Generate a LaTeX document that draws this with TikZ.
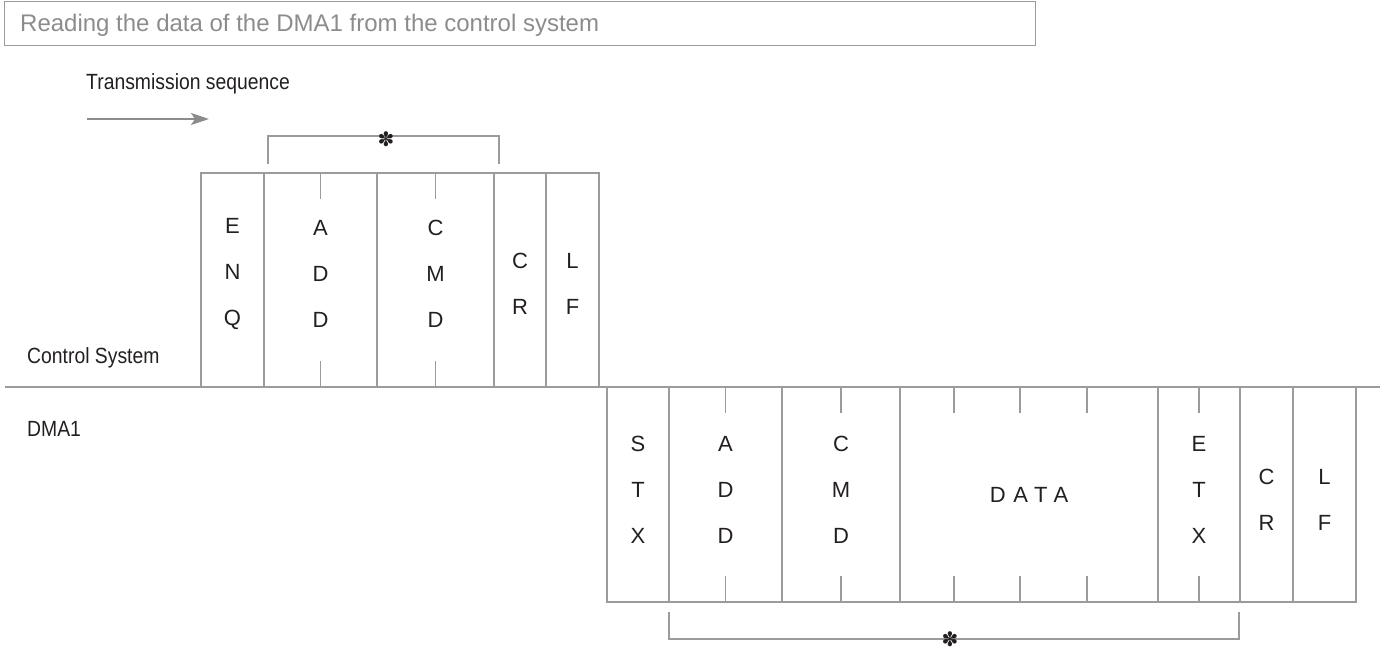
\documentclass[tikz,border=0pt]{standalone}
\usepackage{fontspec}
\setmainfont{Liberation Sans}
\newfontfamily\condfont[FakeStretch=0.88]{Liberation Sans}
\newfontfamily\symfont{DejaVu Sans}
\usetikzlibrary{positioning,arrows.meta}
\definecolor{linegray}{HTML}{9B9B9B}
\definecolor{titlegray}{HTML}{8C8C8C}
\definecolor{inkblack}{HTML}{231F20}

\begin{document}
\begin{tikzpicture}[x=1pt,y=-1pt,
cell/.style={draw=linegray,line width=1.3pt,minimum width=#1,inner sep=0pt,outer sep=0pt},
upper/.style={minimum height=214pt},
lower/.style={minimum height=215pt},
letters/.style={text=inkblack,font=\fontsize{22}{46}\selectfont,align=center},
caption/.style={text=inkblack,font=\condfont\fontsize{22}{26}\selectfont,inner sep=0pt},
frame/.style={draw=linegray,line width=1.3pt},
tick/.style={draw=linegray,line width=1.3pt},
flow/.style={draw=titlegray,line width=2pt,-{Stealth[length=18pt,width=12pt,inset=4pt]}},
starmark/.style={text=inkblack,font=\symfont\fontsize{20}{20}\selectfont,inner sep=0pt}
]

\useasboundingbox (0,0) rectangle (1386,650);

% heading
\node (titlebox) [frame,anchor=north west,minimum width=1031pt,minimum height=44pt,inner sep=0pt] at (4,1) {};
\node (title) [anchor=base west,inner sep=0pt,text=titlegray,font=\fontsize{24}{28}\selectfont] at (20,32) {Reading the data of the DMA1 from the control system};

\node (seq) [caption,anchor=base west] at (86,90) {Transmission sequence};
\coordinate (arrS) at (87,119);
\coordinate (arrE) at (209,119);
\draw[flow] (arrS) -- (arrE);

% control system frame
\node (enq1) [cell=63pt,upper,anchor=north west,label={[letters,yshift=6pt]center:E\\N\\Q}] at (201,173) {};
\node (add1) [cell=113pt,upper,right=0pt of enq1,label={[letters,yshift=6pt]center:A\\D\\D}] {};
\node (cmd1) [cell=117pt,upper,right=0pt of add1,label={[letters,yshift=6pt]center:C\\M\\D}] {};
\node (cr1)  [cell=52pt,upper,right=0pt of cmd1,label={[letters,yshift=-4pt]center:C\\R}] {};
\node (lf1)  [cell=53pt,upper,right=0pt of cr1,label={[letters,yshift=-4pt]center:L\\F}] {};

\foreach \c in {add1,cmd1} {
  \draw[tick] (\c.north) -- ++(0,26);
  \draw[tick] (\c.south) -- ++(0,-26);
}

\node (ctrl) [caption,anchor=base west] at (27,363) {Control System};
\node (dma)  [caption,anchor=base west] at (27,436) {DMA1};

\coordinate (sepL) at (5,387);
\coordinate (sepR) at (1380,387);
\draw[frame] (sepL) -- (sepR);

% DMA1 frame
\node (stx2)  [cell=62pt,lower,anchor=north west,label={[letters,yshift=5pt]center:S\\T\\X}] at (607,387) {};
\node (add2)  [cell=113pt,lower,right=0pt of stx2,label={[letters,yshift=5pt]center:A\\D\\D}] {};
\node (cmd2)  [cell=118pt,lower,right=0pt of add2,label={[letters,yshift=5pt]center:C\\M\\D}] {};
\node (data2) [cell=258pt,lower,right=0pt of cmd2,label={[letters,font=\addfontfeature{LetterSpace=35}\fontsize{22}{46}\selectfont]center:DATA}] {};
\node (etx2)  [cell=82pt,lower,right=0pt of data2,label={[letters,yshift=5pt]center:E\\T\\X}] {};
\node (cr2)   [cell=53pt,lower,right=0pt of etx2,label={[letters,yshift=-5pt]center:C\\R}] {};
\node (lf2)   [cell=63pt,lower,right=0pt of cr2,label={[letters,yshift=-5pt]center:L\\F}] {};

\foreach \c in {add2,cmd2,etx2} {
  \draw[tick] (\c.north) -- ++(0,26);
  \draw[tick] (\c.south) -- ++(0,-26);
}
\foreach \dx in {54,120,187} {
  \draw[tick] ([xshift=\dx pt]data2.north west) -- ++(0,26);
  \draw[tick] ([xshift=\dx pt]data2.south west) -- ++(0,-26);
}

% brackets
\coordinate (br1) at (386,136);
\draw[frame] ([xshift=4pt,yshift=9pt]add1.north west) |- (br1) -| ([xshift=5pt,yshift=9pt]cmd1.north east);
\node (star1) [starmark] at (386,139) {✽};

\coordinate (br2) at (950,639);
\draw[frame] ([yshift=-10pt]add2.south west) |- (br2) -| ([xshift=-1pt,yshift=-10pt]cr2.south west);
\node (star2) [starmark] at (950,639) {✽};

\end{tikzpicture}
\end{document}
